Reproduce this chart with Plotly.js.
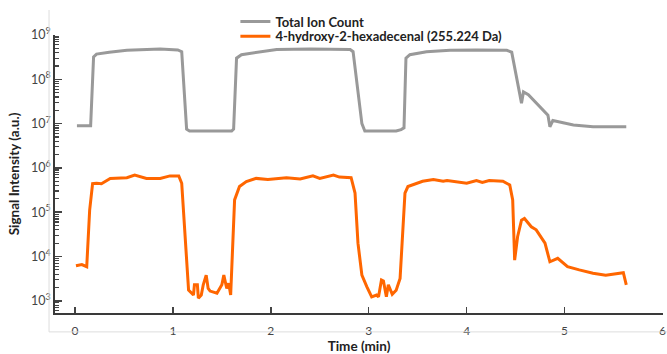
<!DOCTYPE html>
<html><head><meta charset="utf-8">
<script src="https://cdn.plot.ly/plotly-3.0.1.min.js"></script>
<style>html,body{margin:0;padding:0;background:#fff}#chart{width:667px;height:354px}</style>
</head><body><div id="chart"></div>
<script>
// Total Ion Count
const ticTime = [0.02,0.16,0.19,0.22,0.35,0.53,0.87,1.05,1.09,1.14,1.17,1.60,1.62,1.65,1.70,1.89,2.06,2.40,2.81,2.84,2.91,2.93,2.96,3.28,3.33,3.36,3.38,3.42,3.59,3.83,4.10,4.41,4.46,4.52,4.56,4.58,4.63,4.83,4.85,4.88,5.09,5.29,5.63];
const ticValues = [9.0e6,9.0e6,3.2e8,3.7e8,4.1e8,4.5e8,4.8e8,4.6e8,4.2e8,7.5e6,6.8e6,6.8e6,7.5e6,3.0e8,3.6e8,4.2e8,4.7e8,4.8e8,4.7e8,4.2e8,2.0e7,1.0e7,6.8e6,6.8e6,7.3e6,8.0e6,3.0e8,3.6e8,4.2e8,4.5e8,4.6e8,4.5e8,4.1e8,8.1e7,2.9e7,5.2e7,4.5e7,1.55e7,8.5e6,1.17e7,9.3e6,8.5e6,8.5e6];
// 4-hydroxy-2-hexadecenal
const hhdTime = [0.01,0.07,0.12,0.15,0.18,0.22,0.27,0.36,0.53,0.61,0.73,0.87,0.97,1.06,1.09,1.13,1.16,1.21,1.22,1.25,1.26,1.29,1.31,1.34,1.36,1.38,1.45,1.50,1.52,1.55,1.57,1.59,1.61,1.63,1.68,1.75,1.85,1.97,2.16,2.30,2.43,2.50,2.64,2.70,2.82,2.86,2.89,2.93,2.98,3.03,3.08,3.10,3.13,3.15,3.18,3.20,3.24,3.28,3.32,3.34,3.37,3.40,3.49,3.55,3.66,3.76,3.80,4.00,4.10,4.16,4.23,4.37,4.44,4.47,4.49,4.52,4.56,4.59,4.66,4.71,4.80,4.85,4.93,5.03,5.15,5.29,5.42,5.60,5.63];
const hhdValues = [6200,6600,5900,1.12e5,4.4e5,4.5e5,4.4e5,5.8e5,6.0e5,6.9e5,5.8e5,5.8e5,6.6e5,6.6e5,4.5e5,2.0e4,1740,1350,2300,2300,1150,1350,2300,3800,1900,1660,1480,2300,3800,1900,2500,1350,2.0e4,1.9e5,3.8e5,4.9e5,5.8e5,5.5e5,6.0e5,5.6e5,6.6e5,5.8e5,6.9e5,6.2e5,6.0e5,2.7e5,2.0e4,3800,2100,1230,1350,1230,2950,2800,1230,2300,1400,1740,3200,2.0e4,2.7e5,3.8e5,4.5e5,5.0e5,5.5e5,5.0e5,5.2e5,4.5e5,5.2e5,4.7e5,5.2e5,5.0e5,4.1e5,1.9e5,8300,2.8e4,6.6e4,7.2e4,4.7e4,4.0e4,2.0e4,7600,9100,5900,5000,4200,3800,4300,2300];
const seriesNames = ['Total Ion Count','4-hydroxy-2-hexadecenal (255.224 Da)'];
const xTickVals = [0,1,2,3,4,5,6];
const yTickVals = [1e3,1e4,1e5,1e6,1e7,1e8,1e9];
const yTickText = yTickVals.map(v => '10<sup>' + Math.round(Math.log10(v)) + '</sup>');
const yMinorVals = [];
for (let e = 2; e <= 8; e++) for (let m = 2; m <= 9; m++) yMinorVals.push(m * Math.pow(10, e));

const font = 'Lato, "Open Sans", sans-serif';
const legFont = {family: font, size: 13, color: '#222', weight: 'bold'};
const data = [
  {x: ticTime, y: ticValues, name: seriesNames[0], type: 'scatter', mode: 'lines',
   line: {color: '#999999', width: 3}, legend: 'legend'},
  {x: hhdTime, y: hhdValues, name: seriesNames[1], type: 'scatter', mode: 'lines',
   line: {color: '#FF6600', width: 3}, legend: 'legend2'}
];
const layout = {
  width: 667, height: 354,
  margin: {l: 55, r: 4, t: 35, b: 41},
  paper_bgcolor: '#ffffff', plot_bgcolor: 'rgba(0,0,0,0)',
  font: {family: font, size: 12, color: '#333'},
  showlegend: true,
  legend: {x: 0.2967, y: 1.102, xanchor: 'left', yanchor: 'top', bgcolor: 'rgba(0,0,0,0)', font: legFont},
  legend2: {x: 0.2967, y: 1.049, xanchor: 'left', yanchor: 'top', bgcolor: 'rgba(0,0,0,0)', font: legFont},
  xaxis: {range: [-0.204, 6.005], tickvals: xTickVals, ticks: 'inside', ticklen: 6, tickwidth: 1.5,
          tickcolor: '#444', showline: true, linecolor: '#3a3a3a', linewidth: 2, showgrid: false,
          zeroline: false, tickfont: {size: 12, color: '#444'}, ticklabelstandoff: 6,
          ticklabeloverflow: 'allow',
          title: {text: 'Time (min)', font: {size: 13.5, color: '#222', weight: 'bold'}, standoff: 3}},
  yaxis: {type: 'log', range: [2.725, 9.0], tickvals: yTickVals, ticktext: yTickText,
          ticks: 'inside', ticklen: 7, tickwidth: 1.5, tickcolor: '#444',
          minor: {tickvals: yMinorVals, ticks: 'inside', ticklen: 4, tickwidth: 1.2, tickcolor: '#444', showgrid: false},
          showline: true, linecolor: '#3a3a3a', linewidth: 2, showgrid: false, zeroline: false,
          tickfont: {size: 12.5, color: '#444'}, ticklabelstandoff: 0, ticklabeloverflow: 'allow',
          title: {text: 'Signal Intensity (a.u.)', font: {size: 13.5, color: '#222', weight: 'bold'}, standoff: 8}},
  shapes: [
    {type: 'line', xref: 'paper', yref: 'paper', x0: -0.0098, x1: -0.0098, y0: -0.068, y1: 1.09,
     line: {color: '#dddddd', width: 1}},
    {type: 'line', xref: 'paper', yref: 'paper', x0: -0.0098, x1: 1.01, y0: -0.068, y1: -0.068,
     line: {color: '#dddddd', width: 1}}
  ]
};
Plotly.newPlot('chart', data, layout, {displayModeBar: false, staticPlot: true});
</script></body></html>
